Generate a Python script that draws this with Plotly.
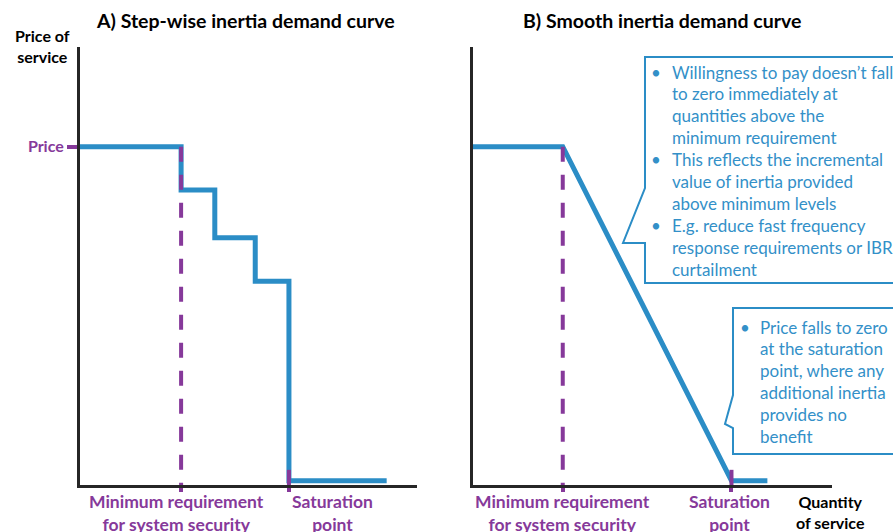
import plotly.graph_objects as go

W, H = 893, 532
BLUE = "#2B8DC6"
TEXT_BLUE = "#3390C8"
PURPLE = "#86399A"
AXIS = "#262626"
FONT = "Lato"

# ---- Panel A: step-wise demand curve (quantity, price) ----
step_qty = [0, 30, 40, 52, 62, 91]
step_price = [77, 67, 56, 46, 0, 0]
a_min_req = 30
a_saturation = 62

# ---- Panel B: smooth demand curve ----
smooth_qty = [0, 25, 72, 82]
smooth_price = [77, 77, 0, 0]
b_min_req = 25
b_saturation = 72

price_level = 77
y_range = [-1, 100]
qty_range = [0, 100]

callout_top = [
    ("•", "Willingness to pay doesn’t fall"),
    ("", "to zero immediately at"),
    ("", "quantities above the"),
    ("", "minimum requirement"),
    ("•", "This reflects the incremental"),
    ("", "value of inertia provided"),
    ("", "above minimum levels"),
    ("•", "E.g. reduce fast frequency"),
    ("", "response requirements or IBR"),
    ("", "curtailment"),
]
callout_bottom = [
    ("•", "Price falls to zero"),
    ("", "at the saturation"),
    ("", "point, where any"),
    ("", "additional inertia"),
    ("", "provides no"),
    ("", "benefit"),
]


def px_x(p):
    return p / W


def px_y(p):
    return 1 - p / H


fig = go.Figure()

# Panel A traces
fig.add_trace(go.Scatter(x=step_qty, y=step_price, mode="lines", line_shape="hv",
                         line=dict(color=BLUE, width=5), xaxis="x", yaxis="y"))
fig.add_trace(go.Scatter(x=[a_min_req, a_min_req], y=[price_level, y_range[0]], mode="lines",
                         line=dict(color=PURPLE, width=4, dash="15px,13px"), xaxis="x", yaxis="y"))
fig.add_trace(go.Scatter(x=[a_saturation, a_saturation], y=[2.5, y_range[0]], mode="lines",
                         line=dict(color=PURPLE, width=4), xaxis="x", yaxis="y"))

# Panel B traces
fig.add_trace(go.Scatter(x=smooth_qty, y=smooth_price, mode="lines",
                         line=dict(color=BLUE, width=5), xaxis="x2", yaxis="y2"))
fig.add_trace(go.Scatter(x=[b_min_req, b_min_req], y=[price_level, y_range[0]], mode="lines",
                         line=dict(color=PURPLE, width=4, dash="15px,13px"), xaxis="x2", yaxis="y2"))
fig.add_trace(go.Scatter(x=[b_saturation, b_saturation], y=[2.5, y_range[0]], mode="lines",
                         line=dict(color=PURPLE, width=4), xaxis="x2", yaxis="y2"))

axis_common = dict(showgrid=False, zeroline=False, showline=True, linewidth=3,
                   linecolor=AXIS, fixedrange=True, layer="below traces")
y_dom = [px_y(485), px_y(47)]

fig.update_layout(
    width=W, height=H,
    margin=dict(l=0, r=0, t=0, b=0),
    paper_bgcolor="white", plot_bgcolor="rgba(0,0,0,0)",
    showlegend=False,
    font=dict(family=FONT),
    xaxis=dict(domain=[px_x(80), px_x(417)], range=qty_range, anchor="y",
               ticks="outside", tickvals=[a_min_req, a_saturation], ticktext=["", ""],
               ticklen=4, tickwidth=4, tickcolor=PURPLE, **axis_common),
    yaxis=dict(domain=y_dom, range=y_range, anchor="x",
               ticks="outside", tickvals=[price_level], ticktext=["Price"],
               ticklen=10, tickwidth=4, tickcolor=PURPLE,
               tickfont=dict(family=FONT, size=16, color=PURPLE, weight="bold"),
               **axis_common),
    xaxis2=dict(domain=[px_x(473), px_x(832)], range=qty_range, anchor="y2",
                ticks="outside", tickvals=[b_min_req, b_saturation], ticktext=["", ""],
                ticklen=4, tickwidth=4, tickcolor=PURPLE, **axis_common),
    yaxis2=dict(domain=y_dom, range=y_range, anchor="x2", showticklabels=False,
                ticks="", **axis_common),
)

ann = []


def text_at(txt, x, y, font, xanchor="center", xref="paper", xshift=0):
    ann.append(dict(text=txt, x=x, y=y, xref=xref, yref="paper", xanchor=xanchor,
                    yanchor="middle", xshift=xshift, showarrow=False, font=font))


bold_black = dict(family=FONT, size=19.5, color="black", weight="bold")
text_at("A) Step-wise inertia demand curve", px_x(245), px_y(20), bold_black)
text_at("B) Smooth inertia demand curve", px_x(662), px_y(20), bold_black)
axis_title_font = dict(family=FONT, size=16, color="black", weight="bold")
text_at("Price of<br>service", px_x(42), px_y(46), axis_title_font)
text_at("Quantity<br>of service", px_x(830), px_y(512), axis_title_font)

label_font = dict(family=FONT, size=17.5, color=PURPLE, weight="bold")
for xr, xv, txt, anchor, shift in [
    ("x", a_min_req, "Minimum requirement<br>for system security", "center", -5),
    ("x", a_saturation, "Saturation<br>point", "left", 1),
    ("x2", b_min_req, "Minimum requirement<br>for system security", "center", 0),
    ("x2", b_saturation, "Saturation<br>point", "center", -2),
]:
    text_at(txt, xv, px_y(513), label_font, xanchor=anchor, xref=xr, xshift=shift)

callout_font = dict(family=FONT, size=17, color=TEXT_BLUE)


# Callout text, one line per annotation
def add_callout(lines, bullet_x, text_x, first_y, step):
    for i, (b, t) in enumerate(lines):
        yy = px_y(first_y + i * step)
        if b:
            text_at(b, px_x(bullet_x), yy, callout_font)
        text_at(t, px_x(text_x), yy, callout_font, xanchor="left")


add_callout(callout_top, 656, 670, 72, 21.9)
add_callout(callout_bottom, 745, 758, 327, 21.9)
fig.update_layout(annotations=ann)


# Speech-bubble outlines
def bubble(left, top, right, bottom, p_top, tip_x, tip_y, p_bot):
    pts = [(left, top), (right, top), (right, bottom), (left, bottom), (left, p_bot),
           (tip_x, tip_y), (left, p_top), (left, top)]
    d = "M " + " L ".join(f"{px_x(x):.5f},{px_y(y):.5f}" for x, y in pts) + " Z"
    return dict(type="path", path=d, xref="paper", yref="paper",
                line=dict(color=BLUE, width=2), fillcolor="rgba(0,0,0,0)")


fig.update_layout(shapes=[
    bubble(645, 57, 900, 283, 188, 623, 243, 243),
    bubble(733, 308, 900, 454, 395, 725, 424, 428),
])

fig.write_html("out.html")
